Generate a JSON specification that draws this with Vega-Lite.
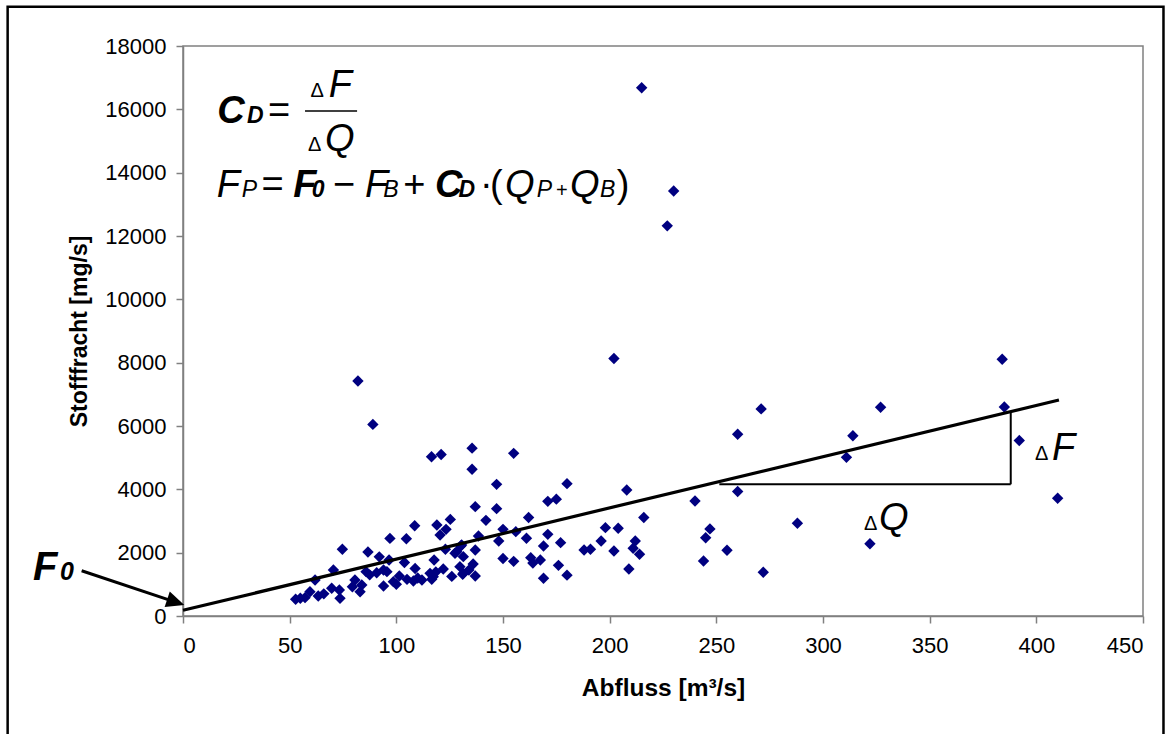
{
  "$schema": "https://vega.github.io/schema/vega-lite/v6.json",
  "width": 960,
  "height": 570,
  "autosize": {"type": "none"},
  "padding": {"left": 183, "top": 46, "right": 27, "bottom": 118},
  "background": "white",
  "config": {
    "view": {"stroke": "#808080", "strokeWidth": 1.5},
    "axis": {
      "labelFont": "Liberation Sans", "labelFontSize": 22, "labelColor": "black",
      "titleFont": "Liberation Sans", "titleFontSize": 23, "titleFontWeight": "bold", "titleColor": "black",
      "domainColor": "#808080", "domainWidth": 1.5, "tickColor": "#808080", "tickWidth": 1.5, "tickSize": 7, "grid": false
    }
  },
  "datasets": {
    "pts": [
      {"q":215,"f":16680},{"q":230,"f":13420},{"q":227,"f":12320},{"q":202,"f":8130},{"q":82,"f":7420},{"q":89,"f":6050},
      {"q":384,"f":8110},{"q":385,"f":6600},{"q":392,"f":5540},{"q":410,"f":3720},{"q":327,"f":6590},{"q":314,"f":5690},
      {"q":311,"f":5010},{"q":271,"f":6540},{"q":260,"f":5740},{"q":260,"f":3930},{"q":240,"f":3630},{"q":247,"f":2750},
      {"q":245,"f":2470},{"q":255,"f":2075},{"q":244,"f":1737},{"q":272,"f":1380},{"q":288,"f":2930},{"q":322,"f":2280},
      {"q":208,"f":3980},{"q":216,"f":3110},{"q":198,"f":2790},{"q":204,"f":2770},{"q":196,"f":2370},{"q":212,"f":2370},
      {"q":211,"f":2140},{"q":214,"f":1950},{"q":202,"f":2055},{"q":209,"f":1485},{"q":188,"f":2084},{"q":191,"f":2106},
      {"q":180,"f":1290},{"q":176,"f":1600},{"q":169,"f":1190},{"q":177,"f":2316},{"q":171,"f":2579},{"q":169,"f":2211},
      {"q":161,"f":2453},{"q":162,"f":3110},{"q":150,"f":2737},{"q":156,"f":2663},{"q":148,"f":2370},{"q":155,"f":1726},
      {"q":150,"f":1815},{"q":163,"f":1842},{"q":164,"f":1670},{"q":167.5,"f":1768},{"q":137,"f":2084},{"q":136,"f":1642},
      {"q":137,"f":1263},{"q":142,"f":3020},{"q":147,"f":3390},{"q":138.5,"f":2526},{"q":137,"f":3453},{"q":135.5,"f":5300},
      {"q":155,"f":5137},{"q":147,"f":4158},{"q":180,"f":4180},{"q":171,"f":3620},{"q":175,"f":3690},{"q":135.5,"f":4632},
      {"q":116.5,"f":5031},{"q":121,"f":5100},{"q":125.3,"f":3050},{"q":119,"f":2874},{"q":123.3,"f":2737},{"q":120.5,"f":2558},
      {"q":123,"f":2106},{"q":130.2,"f":2211},{"q":128.3,"f":2032},{"q":131.4,"f":1874},{"q":117.7,"f":1768},{"q":122,"f":1484},
      {"q":129.8,"f":1558},{"q":131.4,"f":1347},{"q":117.3,"f":1242},{"q":108.6,"f":2850},{"q":97,"f":2450},{"q":104.7,"f":2440},
      {"q":74.7,"f":2106},{"q":86.7,"f":2021},{"q":92,"f":1868},{"q":96.6,"f":1768},{"q":103.8,"f":1690},{"q":108.8,"f":1500},
      {"q":70.5,"f":1453},{"q":85.8,"f":1400},{"q":90.8,"f":1368},{"q":95.6,"f":1400},{"q":101.4,"f":1263},{"q":105,"f":1158},
      {"q":108,"f":1105},{"q":112,"f":1137},{"q":115.8,"f":1347},{"q":116.6,"f":1158},{"q":61.9,"f":1137},{"q":80.6,"f":1137},
      {"q":79.4,"f":926},{"q":83.8,"f":979},{"q":83,"f":768},{"q":94,"f":947},{"q":98.6,"f":1084},{"q":69.7,"f":874},
      {"q":73.3,"f":821},{"q":73.6,"f":558},{"q":63.4,"f":632},{"q":59.5,"f":768},{"q":57.2,"f":579},{"q":52.8,"f":527},
      {"q":55,"f":560},{"q":94,"f":1453},{"q":127.5,"f":1980},{"q":130.6,"f":2242},{"q":131.1,"f":1316},{"q":118.5,"f":1390},
      {"q":87.5,"f":1300},{"q":100,"f":1000},{"q":110,"f":1200},{"q":126,"f":1250},{"q":134,"f":1450},{"q":66,"f":700}
    ]
  },
  "layer": [
    {
      "data": {"values": [{"x1": -82.2, "x2": 459.6, "y1": 19241, "y2": -4300}]},
      "mark": {"type": "rect", "fillOpacity": 0, "stroke": "black", "strokeWidth": 2.5, "clip": false},
      "encoding": {
        "x": {"field": "x1", "type": "quantitative", "scale": {"domain": [0, 450], "nice": false}, "axis": {"title": "Abfluss [m³/s]", "titleFontSize": 24.5, "values": [0,50,100,150,200,250,300,350,400,450], "labelPadding": 12, "titlePadding": 20}},
        "x2": {"field": "x2"},
        "y": {"field": "y1", "type": "quantitative", "scale": {"domain": [0, 18000], "nice": false}, "axis": {"title": "Stofffracht [mg/s]", "values": [0,2000,4000,6000,8000,10000,12000,14000,16000,18000], "format": "d", "labelPadding": 10, "titlePadding": 13}},
        "y2": {"field": "y2"}
      }
    },
    {
      "data": {"name": "pts"},
      "mark": {"type": "point", "shape": "diamond", "filled": true, "color": "#000080", "size": 130, "opacity": 1},
      "encoding": {
        "x": {"field": "q", "type": "quantitative"},
        "y": {"field": "f", "type": "quantitative"}
      }
    },
    {
      "data": {"values": [{"x": 0, "y": 180, "x2": 410.6, "y2": 6821}]},
      "mark": {"type": "rule", "color": "black", "strokeWidth": 3.2},
      "encoding": {"x": {"field": "x", "type": "quantitative"}, "y": {"field": "y", "type": "quantitative"}, "x2": {"field": "x2"}, "y2": {"field": "y2"}}
    },
    {
      "data": {"values": [{"x": 251.4, "y": 4159, "x2": 388, "y2": 4159}, {"x": 388, "y": 4159, "x2": 388, "y2": 6474}]},
      "mark": {"type": "rule", "color": "black", "strokeWidth": 2},
      "encoding": {"x": {"field": "x", "type": "quantitative"}, "y": {"field": "y", "type": "quantitative"}, "x2": {"field": "x2"}, "y2": {"field": "y2"}}
    },
    {
      "data": {"values": [{"x": -47.5, "y": 1430, "x2": -3.8, "y2": 448}]},
      "mark": {"type": "rule", "color": "black", "strokeWidth": 3, "clip": false},
      "encoding": {"x": {"field": "x", "type": "quantitative"}, "y": {"field": "y", "type": "quantitative"}, "x2": {"field": "x2"}, "y2": {"field": "y2"}}
    },
    {
      "data": {"values": [{"x": 0.6, "y": 347}]},
      "mark": {"type": "point", "shape": "M0,0L-1,-0.45L-1,0.45Z", "filled": true, "color": "black", "size": 1296, "angle": 18.5, "opacity": 1, "clip": false},
      "encoding": {"x": {"field": "x", "type": "quantitative"}, "y": {"field": "y", "type": "quantitative"}}
    },
    {
      "data": {"values": [
        {"x": 16, "y": 15553, "t": "C"}, {"x": 51.7, "y": 13241, "t": "F"}, {"x": 118.1, "y": 13241, "t": "C"}
      ]},
      "mark": {"type": "text", "font": "Liberation Sans", "fontSize": 38, "fontStyle": "italic", "fontWeight": "bold", "align": "left", "baseline": "alphabetic", "color": "black"},
      "encoding": {"x": {"field": "x", "type": "quantitative"}, "y": {"field": "y", "type": "quantitative"}, "text": {"field": "t"}}
    },
    {
      "data": {"values": [
        {"x": -70.3, "y": 1137, "t": "F"}
      ]},
      "mark": {"type": "text", "font": "Liberation Sans", "fontSize": 40, "fontStyle": "italic", "fontWeight": "bold", "align": "left", "baseline": "alphabetic", "color": "black", "clip": false},
      "encoding": {"x": {"field": "x", "type": "quantitative"}, "y": {"field": "y", "type": "quantitative"}, "text": {"field": "t"}}
    },
    {
      "data": {"values": [
        {"x": -57.7, "y": 1137, "t": "0"}
      ]},
      "mark": {"type": "text", "font": "Liberation Sans", "fontSize": 25, "fontStyle": "italic", "fontWeight": "bold", "align": "left", "baseline": "alphabetic", "color": "black", "clip": false},
      "encoding": {"x": {"field": "x", "type": "quantitative"}, "y": {"field": "y", "type": "quantitative"}, "text": {"field": "t"}}
    },
    {
      "data": {"values": [
        {"x": 68.3, "y": 16399, "t": "F"}, {"x": 66.6, "y": 14684, "t": "Q"},
        {"x": 15.8, "y": 13241, "t": "F"}, {"x": 85.3, "y": 13241, "t": "F"}, {"x": 150.9, "y": 13241, "t": "Q"}, {"x": 181.4, "y": 13241, "t": "Q"},
        {"x": 407.3, "y": 4926, "t": "F"}, {"x": 326.3, "y": 2716, "t": "Q"}
      ]},
      "mark": {"type": "text", "font": "Liberation Sans", "fontSize": 38, "fontStyle": "italic", "align": "left", "baseline": "alphabetic", "color": "black"},
      "encoding": {"x": {"field": "x", "type": "quantitative"}, "y": {"field": "y", "type": "quantitative"}, "text": {"field": "t"}}
    },
    {
      "data": {"values": [
        {"x": 30, "y": 15553, "t": "D"}, {"x": 60.3, "y": 13241, "t": "0"}, {"x": 129.1, "y": 13241, "t": "D"}
      ]},
      "mark": {"type": "text", "font": "Liberation Sans", "fontSize": 23, "fontStyle": "italic", "fontWeight": "bold", "align": "left", "baseline": "alphabetic", "color": "black"},
      "encoding": {"x": {"field": "x", "type": "quantitative"}, "y": {"field": "y", "type": "quantitative"}, "text": {"field": "t"}}
    },
    {
      "data": {"values": [
        {"x": 27.5, "y": 13241, "t": "P"}, {"x": 93.9, "y": 13241, "t": "B"}, {"x": 165.8, "y": 13241, "t": "P"}, {"x": 195.5, "y": 13241, "t": "B"}
      ]},
      "mark": {"type": "text", "font": "Liberation Sans", "fontSize": 23, "fontStyle": "italic", "align": "left", "baseline": "alphabetic", "color": "black"},
      "encoding": {"x": {"field": "x", "type": "quantitative"}, "y": {"field": "y", "type": "quantitative"}, "text": {"field": "t"}}
    },
    {
      "data": {"values": [
        {"x": 39.8, "y": 15553, "t": "="}, {"x": 36.8, "y": 13241, "t": "="}, {"x": 70.3, "y": 13241, "t": "−"}, {"x": 103.3, "y": 13241, "t": "+"},
        {"x": 139.2, "y": 13241, "t": "·"}, {"x": 143.9, "y": 13241, "t": "("}, {"x": 203.3, "y": 13241, "t": ")"}
      ]},
      "mark": {"type": "text", "font": "Liberation Sans", "fontSize": 38, "align": "left", "baseline": "alphabetic", "color": "black"},
      "encoding": {"x": {"field": "x", "type": "quantitative"}, "y": {"field": "y", "type": "quantitative"}, "text": {"field": "t"}}
    },
    {
      "data": {"values": [
        {"x": 174.8, "y": 13241, "t": "+"},
        {"x": 59.8, "y": 16399, "t": "Δ"}, {"x": 58.6, "y": 14684, "t": "Δ"},
        {"x": 399.4, "y": 4926, "t": "Δ"}, {"x": 319.2, "y": 2716, "t": "Δ"}
      ]},
      "mark": {"type": "text", "font": "Liberation Sans", "fontSize": 20, "align": "left", "baseline": "alphabetic", "color": "black"},
      "encoding": {"x": {"field": "x", "type": "quantitative"}, "y": {"field": "y", "type": "quantitative"}, "text": {"field": "t"}}
    },
    {
      "data": {"values": [{"x": 57.2, "y": 15947, "x2": 81.6}]},
      "mark": {"type": "rule", "color": "black", "strokeWidth": 1.5},
      "encoding": {"x": {"field": "x", "type": "quantitative"}, "y": {"field": "y", "type": "quantitative"}, "x2": {"field": "x2"}}
    }
  ]
}
